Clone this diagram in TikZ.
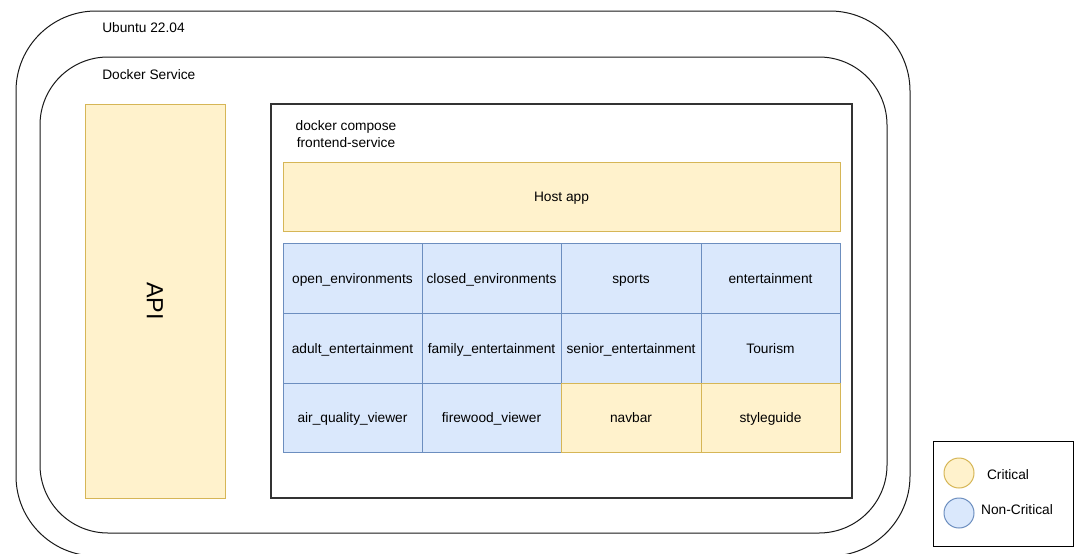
\documentclass[tikz,border=0pt]{standalone}
\usepackage{fontspec}
\setmainfont{Liberation Sans}
\usetikzlibrary{fit}
\definecolor{critfill}{HTML}{FFF2CC}
\definecolor{critline}{HTML}{D6B656}
\definecolor{ncfill}{HTML}{DAE8FC}
\definecolor{ncline}{HTML}{6C8EBF}
\definecolor{frameline}{HTML}{333333}
\begin{document}
\begin{tikzpicture}[x=0.75pt,y=-0.75pt,
  txt/.style={font=\fontsize{10.3}{12.4}\selectfont, text=black, inner sep=0pt},
  hostframe/.style={draw=black!90, line width=0.75pt, inner sep=0pt},
  boxframe/.style={draw=frameline, line width=1.1pt, inner sep=0pt},
  crit/.style={draw=critline, fill=critfill, line width=0.75pt, inner sep=0pt},
  noncrit/.style={draw=ncline, fill=ncfill, line width=0.75pt, inner sep=0pt},
  caption/.style={label={[txt, text height=7pt, text depth=2.5pt, yshift=-1.8pt]center:#1}},
  dot/.style={circle, minimum size=22.5pt, inner sep=0pt, line width=0.75pt}]
\useasboundingbox (0,0) rectangle (1080,553);
\clip (0,0) rectangle (1080,553);
\fill[white] (0,0) rectangle (1080,553);

% host OS and docker daemon
\node[hostframe, rounded corners=60pt, fit={(16,11) (910,556)}] (ubuntu) {};
\node[txt, anchor=west] (ubuntulbl) at (102,28) {Ubuntu 22.04};
\node[hostframe, rounded corners=51pt, fit={(40,57) (887,533)}] (docker) {};
\node[txt, anchor=west] (dockerlbl) at (102,75) {Docker Service};

% backend
\node[crit, fit={(85,104) (225,498)}] (api) {};
\node[font=\fontsize{17.5}{20}\selectfont, rotate=-90, inner sep=0pt] (apilbl) at (api.center) {API};

% frontend compose project
\node[boxframe, fit={(271,104) (852,498)}] (compose) {};
\node[txt, align=center] (composelbl) at (346,134) {docker compose\\frontend-service};
\node[crit, fit={(283,162) (840,231)}, caption={Host app}] (host) {};

% micro-frontends
\node[noncrit, fit={(283,243) (422,313)}, caption={open\_environments}] (c11) {};
\node[noncrit, fit={(422,243) (561,313)}, caption={closed\_environments}] (c12) {};
\node[noncrit, fit={(561,243) (701,313)}, caption={sports}] (c13) {};
\node[noncrit, fit={(701,243) (840,313)}, caption={entertainment}] (c14) {};
\node[noncrit, fit={(283,313) (422,383)}, caption={adult\_entertainment}] (c21) {};
\node[noncrit, fit={(422,313) (561,383)}, caption={family\_entertainment}] (c22) {};
\node[noncrit, fit={(561,313) (701,383)}, caption={senior\_entertainment}] (c23) {};
\node[noncrit, fit={(701,313) (840,383)}, caption={Tourism}] (c24) {};
\node[noncrit, fit={(283,383) (422,452)}, caption={air\_quality\_viewer}] (c31) {};
\node[noncrit, fit={(422,383) (561,452)}, caption={firewood\_viewer}] (c32) {};
\node[crit, fit={(561,383) (701,452)}, caption={navbar}] (c33) {};
\node[crit, fit={(701,383) (840,452)}, caption={styleguide}] (c34) {};

% legend
\node[draw=black, line width=0.75pt, inner sep=0pt, fit={(933,441) (1073,546)}] (legend) {};
\node[dot, draw=critline, fill=critfill] (critdot) at (959,473) {};
\node[txt] (critlbl) at (1008,475) {Critical};
\node[dot, draw=ncline, fill=ncfill] (ncdot) at (959,513) {};
\node[txt] (nclbl) at (1017,510) {Non-Critical};
\end{tikzpicture}
\end{document}
